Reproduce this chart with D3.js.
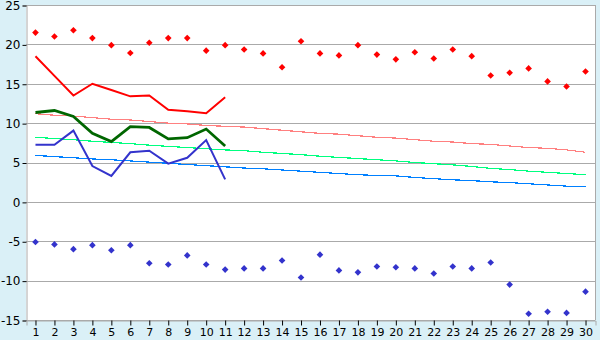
<!DOCTYPE html>
<html>
<head>
<meta charset="utf-8">
<script src="https://cdn.jsdelivr.net/npm/d3@7"></script>
<style>
body { margin: 0; background: #daf0f7; }
svg text { font-family: "DejaVu Sans", Verdana, sans-serif; font-size: 11px; fill: #000; }
</style>
</head>
<body>
<script>
const days = d3.range(1, 31)
const yTicks = [-15, -10, -5, 0, 5, 10, 15, 20, 25]

// record highs / lows (markers)
const recordMax = [21.5, 21.0, 21.8, 20.8, 19.9, 18.9, 20.2, 20.8, 20.8, 19.2,
                   19.9, 19.35, 18.85, 17.1, 20.4, 18.85, 18.6, 19.9, 18.7, 18.1,
                   19.0, 18.2, 19.35, 18.5, 16.05, 16.4, 16.95, 15.3, 14.65, 16.55]
const recordMin = [-5.1, -5.4, -6.0, -5.5, -6.15, -5.5, -7.8, -7.95, -6.8, -7.95,
                   -8.6, -8.45, -8.45, -7.45, -9.6, -6.7, -8.7, -8.95, -8.2, -8.3,
                   -8.45, -9.1, -8.2, -8.45, -7.7, -10.5, -14.2, -13.95, -14.1, -11.4]

// observed this month (days 1-11)
const obsMax  = [18.5, 16.0, 13.5, 15.0, 14.2, 13.4, 13.5, 11.7, 11.5, 11.25, 13.3]
const obsMean = [11.35, 11.6, 10.85, 8.7, 7.65, 9.55, 9.45, 8.0, 8.15, 9.25, 7.1]
const obsMin  = [7.25, 7.25, 9.05, 4.55, 3.3, 6.3, 6.5, 4.85, 5.6, 7.85, 2.85]

// normals
const normMax  = [11.2, 11.0, 10.9, 10.7, 10.5, 10.4, 10.2, 10.0, 9.9, 9.7,
                  9.6, 9.5, 9.3, 9.1, 8.9, 8.7, 8.6, 8.4, 8.2, 8.1,
                  7.9, 7.7, 7.6, 7.4, 7.3, 7.1, 6.9, 6.8, 6.6, 6.3]
const normMean = [8.2, 8.05, 7.9, 7.7, 7.55, 7.4, 7.2, 7.05, 6.9, 6.75,
                  6.6, 6.5, 6.3, 6.15, 6.0, 5.8, 5.65, 5.5, 5.35, 5.2,
                  5.0, 4.85, 4.7, 4.5, 4.25, 4.1, 3.9, 3.75, 3.6, 3.45]
const normMin  = [5.9, 5.75, 5.6, 5.45, 5.35, 5.2, 5.05, 4.9, 4.75, 4.6,
                  4.45, 4.3, 4.2, 4.05, 3.9, 3.75, 3.6, 3.45, 3.35, 3.3,
                  3.1, 2.95, 2.8, 2.7, 2.55, 2.45, 2.3, 2.15, 2.0, 1.9]

const width = 600, height = 340
const plotLeft = 26, plotRight = 595, plotTop = 5, plotBottom = 320

const svg = d3.select("body").append("svg")
    .attr("width", width)
    .attr("height", height)

const x = d3.scaleBand().domain(days).range([plotLeft, plotRight])
const y = d3.scaleLinear().domain([-15, 25]).range([plotBottom, plotTop])
const cx = d => x(d) + x.bandwidth() / 2

svg.append("rect")
    .attr("x", plotLeft).attr("y", plotTop)
    .attr("width", plotRight - plotLeft).attr("height", plotBottom - plotTop)
    .style("fill", "#ffffff")

// grid
svg.append("g").selectAll("line").data(yTicks).join("line")
    .attr("x1", plotLeft).attr("x2", plotRight)
    .attr("y1", d => Math.round(y(d)) + 0.5).attr("y2", d => Math.round(y(d)) + 0.5)
    .style("stroke", "#aaaaaa")

svg.append("line")
    .attr("x1", plotRight + 0.5).attr("x2", plotRight + 0.5)
    .attr("y1", plotTop).attr("y2", plotBottom)
    .style("stroke", "#aaaaaa")

// axes
const yAxis = svg.append("g")
    .attr("transform", `translate(${plotLeft + 0.5},0.5)`)
    .call(d3.axisLeft(y).tickValues(yTicks).tickSize(4).tickPadding(2).tickFormat(d => String(d)))
yAxis.select(".domain").style("stroke", "#aaaaaa")
yAxis.selectAll(".tick line").style("stroke", "#000")
yAxis.selectAll("text").style("font-size", "12px")

const xAxis = svg.append("g")
    .attr("transform", `translate(0.5,${plotBottom + 0.5})`)
    .call(d3.axisBottom(x).tickSize(5).tickPadding(3))
xAxis.select(".domain").style("stroke", "#aaaaaa")
xAxis.selectAll(".tick line").style("stroke", "#000")

svg.selectAll("text").style("font-family", "'DejaVu Sans', sans-serif")

// lines
function drawLine(vals, color, w, crisp) {
  const line = d3.line().x((d, i) => cx(days[i])).y(d => y(d))
  svg.append("path")
      .datum(vals)
      .attr("d", line)
      .style("fill", "none")
      .style("stroke", color)
      .style("stroke-width", w)
      .style("shape-rendering", crisp ? "crispEdges" : "auto")
}
drawLine(normMax, "#ff8080", 1.2, true)
drawLine(normMean, "#00ff80", 1.2, true)
drawLine(normMin, "#0080ff", 1.2, true)

drawLine(obsMax, "#ff0000", 2, false)
drawLine(obsMean, "#006600", 2.8, false)
drawLine(obsMin, "#3333cc", 2, false)

// record markers: small square turned 45 degrees
const marker = d3.symbol().type(d3.symbolSquare).size(22)
svg.append("g").selectAll("path").data(recordMax).join("path")
    .attr("d", marker)
    .attr("transform", (d, i) => `translate(${cx(days[i])},${y(d)}) rotate(45)`)
    .style("fill", "#ff0000")
svg.append("g").selectAll("path").data(recordMin).join("path")
    .attr("d", marker)
    .attr("transform", (d, i) => `translate(${cx(days[i])},${y(d)}) rotate(45)`)
    .style("fill", "#3333cc")
</script>
</body>
</html>
